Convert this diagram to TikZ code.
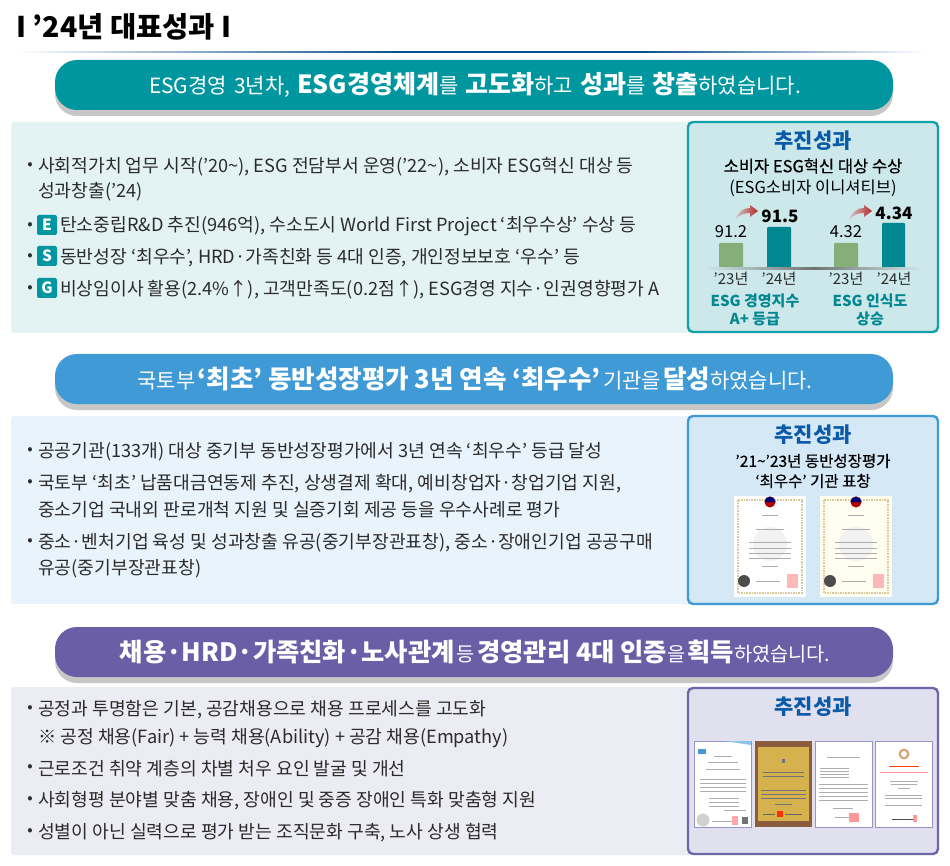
\documentclass[tikz,border=0pt]{standalone}
\usepackage{fontspec}
\setmainfont{Noto Sans CJK KR}
\newfontfamily\med[FakeBold=0.5]{Noto Sans CJK KR}
\definecolor{teal1}{HTML}{00969F}
\definecolor{teal2}{HTML}{13A0A6}
\definecolor{tealp}{HTML}{E3F3F4}
\definecolor{tealb}{HTML}{CDE8EA}
\definecolor{blue1}{HTML}{3F9AD6}
\definecolor{bluep}{HTML}{E9F3FB}
\definecolor{blueb}{HTML}{D5E8F6}
\definecolor{vio1}{HTML}{6A5FA6}
\definecolor{viop}{HTML}{ECECF4}
\definecolor{viob}{HTML}{E0E0EF}
\definecolor{vior}{HTML}{6F66AA}
\definecolor{headb}{HTML}{0B5AA8}
\definecolor{ink}{HTML}{2B2B2B}
\definecolor{barg}{HTML}{86AE78}
\definecolor{bart}{HTML}{00878F}
\definecolor{tan1}{HTML}{D8C89A}
\definecolor{gold}{HTML}{D6B24E}
\definecolor{wood}{HTML}{8A5E3C}
\newcommand{\fs}[1]{\fontsize{#1}{#1}\selectfont}
\newcommand{\B}[2]{{\fs{#1}\bfseries #2}}
\newcommand{\R}[2]{{\fs{#1}#2}}
\tikzset{
  pill/.style={rounded corners=22pt},
  shadowbar/.style={fill=black!22,rounded corners=22pt},
  body/.style={anchor=west,inner sep=0pt,text=ink,font=\fs{18.2},yshift=-1.3pt},
  bul/.style={anchor=center,inner sep=0pt,text=ink,font=\fs{16},yshift=-1pt},
  head/.style={anchor=center,inner sep=0pt,text=white},
  res/.style={anchor=center,inner sep=0pt,text=headb,font=\fs{21}\bfseries},
  sub/.style={anchor=center,inner sep=0pt,text=black,font=\fs{16.5}},
  subm/.style={anchor=center,inner sep=0pt,text=black,font=\med\fs{16.5}},
  val/.style={anchor=center,inner sep=0pt,text=black,font=\fs{16.5}},
  valb/.style={anchor=center,inner sep=0pt,text=black,font=\fs{17}\bfseries},
  yr/.style={anchor=center,inner sep=0pt,text=ink,font=\fs{15}},
  tl/.style={anchor=center,inner sep=0pt,text=bart,font=\fs{15}\bfseries},
  tag/.style={fill=teal1,rounded corners=2pt,text=white,font=\fs{15.5}\bfseries,inner sep=0pt,minimum width=20pt,minimum height=20pt,anchor=center},
  txtl/.style={draw=black!32,line width=0.55pt},
}
% certificate with tan border: #1 left, #2 top, #3 paper colour
\newcommand{\certA}[3]{\begin{scope}[shift={(#1,#2)}]
  \fill[#3] (0,0) rectangle (72,101);
  \draw[tan1,line width=1.6pt,densely dotted] (4,4) rectangle (68,97);
  \fill[black!5] (36,48) circle (17);
  \fill[red!70!black] (36,6) circle (5.5);
  \fill[blue!45!black] (30.5,6) arc (180:360:5.5) -- cycle;
  \foreach \a/\b/\y in {28/44/19,22/50/33,15/57/46,15/57/52,15/57/57,15/57/62,28/44/70}{\draw[txtl] (\a,\y) -- (\b,\y);}
  \fill[black!70] (10,85) circle (6);
  \draw[txtl] (22,85) -- (46,85);
  \fill[red!28] (53,78) rectangle (64,92);
\end{scope}}
\newcommand{\certframe}[1]{\fill[white] (#1,0) rectangle ++(57,86); \draw[vior!70,line width=0.8pt] (#1,0) rectangle ++(57,86);}
% curved gradient arrow starting at #1,#2
\newcommand{\grarrow}[2]{\begin{scope}[shift={(#1,#2)}]
  \shade[left color=red!12!tealb,right color=red!65!black!85]
   (0,15) .. controls (3,7) and (8,3) .. (15,3) -- (15,0) -- (23,6) -- (15,12) -- (15,8) .. controls (9,8) and (4,10) .. (0,15) -- cycle;
\end{scope}}
\begin{document}
\begin{tikzpicture}[x=1pt,y=-1pt]
\useasboundingbox (0,0) rectangle (950,866);
\fill[white] (0,0) rectangle (950,866);
% title
\node[anchor=west,inner sep=0pt,text=black,font=\fs{28.5}\bfseries] (title) at (16,27) {I ’24년 대표성과 I};
\shade[left color=white,right color=headb!85!black] (15,51.5) rectangle (400,53);
\fill[headb!85!black] (400,51.5) rectangle (640,53);
\shade[left color=headb!85!black,right color=white] (640,51.5) rectangle (925,53);
% panels
\fill[tealp,rounded corners=3pt] (11,122) rectangle (692,333);
\fill[bluep,rounded corners=3pt] (11,416) rectangle (692,604);
\fill[viop,rounded corners=3pt] (11,687) rectangle (692,855);
% pills
\fill[shadowbar] (55,65) rectangle (893,116);
\fill[pill,teal1] (55,60) rectangle (893,110);
\fill[shadowbar] (55,359) rectangle (893,410);
\fill[pill,blue1] (55,354) rectangle (893,404);
\fill[shadowbar] (55,632) rectangle (893,683);
\fill[pill,vio1] (55,627) rectangle (893,677);
\node[head] (h1) at (475,85) {\spaceskip=7pt \R{21}{ESG경영 3년차,} \B{25}{ESG경영체계}\R{21}{를} \B{25}{고도화}\R{21}{하고} \B{25}{성과}\R{21}{를} \B{25}{창출}\R{21}{하였습니다.}};
\node[head] (h2) at (475,379) {\R{21}{국토부} \B{25.5}{‘최초’ 동반성장평가 3년 연속 ‘최우수’} \R{21}{기관을} \B{25.5}{달성}\R{21}{하였습니다.}};
\node[head] (h3) at (475,652) {\B{25.3}{채용·HRD·가족친화·노사관계} \R{19.7}{등} \B{25.3}{경영관리 4대 인증}\R{19.7}{을} \B{25.3}{획득}\R{19.7}{하였습니다.}};
% panel 1 text
\node[bul] (b1) at (30,165) {•};
\node[body] (t1) at (38,165) {사회적가치 업무 시작(’20\textasciitilde), ESG 전담부서 운영(’22\textasciitilde), 소비자 ESG혁신 대상 등};
\node[body] (t1b) at (38,190) {성과창출(’24)};
\node[bul] (b2) at (30,225) {•};
\node[tag] (e) at (47,225) {E};
\node[body] (t2) at (60,225) {탄소중립R\&D 추진(946억), 수소도시 World First Project ‘최우수상’ 수상 등};
\node[bul] (b3) at (30,256) {•};
\node[tag] (s) at (47,256) {S};
\node[body] (t3) at (60,256) {동반성장 ‘최우수’, HRD·가족친화 등 4대 인증, 개인정보보호 ‘우수’ 등};
\node[bul] (b4) at (30,288) {•};
\node[tag] (g) at (47,288) {G};
\node[body] (t4) at (60,288) {비상임이사 활용(2.4\%↑), 고객만족도(0.2점↑), ESG경영 지수·인권영향평가 A};
% panel 2 text
\node[bul] (b5) at (30,450) {•};
\node[body] (t5) at (38,450) {공공기관(133개) 대상 중기부 동반성장평가에서 3년 연속 ‘최우수’ 등급 달성};
\node[bul] (b6) at (30,482) {•};
\node[body] (t6) at (38,482) {국토부 ‘최초’ 납품대금연동제 추진, 상생결제 확대, 예비창업자·창업기업 지원,};
\node[body] (t6b) at (38,508) {중소기업 국내외 판로개척 지원 및 실증기회 제공 등을 우수사례로 평가};
\node[bul] (b7) at (30,541) {•};
\node[body] (t7) at (38,541) {중소·벤처기업 육성 및 성과창출 유공(중기부장관표창), 중소·장애인기업 공공구매};
\node[body] (t7b) at (38,567) {유공(중기부장관표창)};
% panel 3 text
\node[bul] (b8) at (30,708) {•};
\node[body] (t8) at (38,708) {공정과 투명함은 기본, 공감채용으로 채용 프로세스를 고도화};
\node[body] (t8b) at (38,737) {※ 공정 채용(Fair) + 능력 채용(Ability) + 공감 채용(Empathy)};
\node[bul] (b9) at (30,767) {•};
\node[body] (t9) at (38,767) {근로조건 취약 계층의 차별 처우 요인 발굴 및 개선};
\node[bul] (b10) at (30,799) {•};
\node[body] (t10) at (38,799) {사회형평 분야별 맞춤 채용, 장애인 및 중증 장애인 특화 맞춤형 지원};
\node[bul] (b11) at (30,831) {•};
\node[body] (t11) at (38,831) {성별이 아닌 실력으로 평가 받는 조직문화 구축, 노사 상생 협력};
% result boxes
\draw[teal2,fill=tealb,line width=2.4pt,rounded corners=5pt] (688,122) rectangle (938,332);
\draw[blue1,fill=blueb,line width=2.4pt,rounded corners=5pt] (688,416) rectangle (938,604);
\draw[vior,fill=viob,line width=2.4pt,rounded corners=5pt] (688,688) rectangle (938,854);
% box 1
\node[res] (r1) at (813,141) {추진성과};
\node[subm] (r1a) at (813,166) {소비자 ESG혁신 대상 수상};
\node[sub] (r1b) at (813,188) {(ESG소비자 이니셔티브)};
\fill[barg,rounded corners=1pt] (719,243) rectangle (743,268);
\fill[bart,rounded corners=1pt] (767,227) rectangle (791,268);
\fill[barg,rounded corners=1pt] (834,243) rectangle (858,268);
\fill[bart,rounded corners=1pt] (882,223) rectangle (905,268);
\shade[left color=tealb,right color=tealb,middle color=black!55] (705,267.5) rectangle (922,269.5);
\node[val] (v1) at (731,232) {91.2};
\node[valb] (v2) at (780,216) {91.5};
\node[val] (v3) at (846,232) {4.32};
\node[valb] (v4) at (894,213) {4.34};
\grarrow{735}{205}
\grarrow{849}{205}
\node[yr] (y1) at (731,279) {’23년};
\node[yr] (y2) at (779,279) {’24년};
\node[yr] (y3) at (846,279) {’23년};
\node[yr] (y4) at (894,279) {’24년};
\node[tl] (l1) at (755,301) {ESG 경영지수};
\node[tl] (l2) at (755,319) {A+ 등급};
\node[tl] (l3) at (870,301) {ESG 인식도};
\node[tl] (l4) at (870,319) {상승};
% box 2
\node[res] (r2) at (813,435) {추진성과};
\node[subm,font=\med\fs{15.5}] (r2a) at (813,461) {’21\textasciitilde’23년 동반성장평가};
\node[subm,font=\med\fs{15.5}] (r2b) at (813,481) {‘최우수’ 기관 표창};
\certA{734}{496}{white}
\certA{820}{496}{yellow!6}
% box 3
\node[res] (r3) at (813,707) {추진성과};
\begin{scope}[shift={(694,741)}]
  \certframe{0}
  \fill[blue1!60] (30,0) -- (57,0) -- (57,4) -- cycle;
  \fill[blue1] (4,8) rectangle (12,13);
  \foreach \a/\b/\y in {20/38/15,14/44/21,12/46/28,6/52/38,6/52/42,6/52/46,6/52/50,15/45/57,15/45/61,15/45/65,30/52/69}{\draw[txtl,line width=0.4pt] (\a,\y) -- (\b,\y);}
  \fill[black!18] (9,79) circle (6.5);
  \draw[txtl] (18,80) -- (38,80);
  \fill[red!35] (38,75) rectangle (44,84);
  \fill[black!55] (48,76) rectangle (54,83);
\end{scope}
\begin{scope}[shift={(755,741)}]
  \fill[wood] (0,0) rectangle (57,86);
  \fill[gold] (3,6) rectangle (54,80);
  \fill[black!55] (27,18) rectangle (30,22);
  \foreach \a/\b/\y in {8/49/31,8/49/35,6/51/49,6/51/53,6/51/57,20/37/63}{\draw[black!55,line width=0.5pt] (\a,\y) -- (\b,\y);}
  \fill[red!60!orange] (22,70) rectangle (28,76);
  \draw[black!60,line width=0.8pt] (8,73) -- (20,73) (30,73) -- (47,73);
\end{scope}
\begin{scope}[shift={(815,741)}]
  \certframe{0}
  \foreach \a/\b/\y in {12/45/16,5/34/27,5/34/30,5/34/33,5/34/36,4/53/43,4/53/47,4/53/51,4/53/55,4/53/59,18/38/67}{\draw[txtl,line width=0.4pt] (\a,\y) -- (\b,\y);}
  \draw[txtl] (20,76) -- (34,76);
  \fill[red!40] (34,72) rectangle (44,81);
\end{scope}
\begin{scope}[shift={(875,741)}]
  \certframe{0}
  \fill[brown!70] (29,13) circle (5.5);
  \fill[white] (29,13) circle (3);
  \draw[red!50!orange,line width=0.7pt] (14,25) -- (44,25);
  \draw[red!40,line width=0.4pt] (5,31) -- (53,31);
  \foreach \a/\b/\y in {15/43/40,16/42/43,23/35/47,10/47/54,10/47/57,10/47/64}{\draw[txtl,line width=0.4pt] (\a,\y) -- (\b,\y);}
  \draw[black!70,line width=1pt] (17,78) -- (38,78);
  \fill[red!40] (38,74) rectangle (42,81);
\end{scope}
\end{tikzpicture}
\end{document}
